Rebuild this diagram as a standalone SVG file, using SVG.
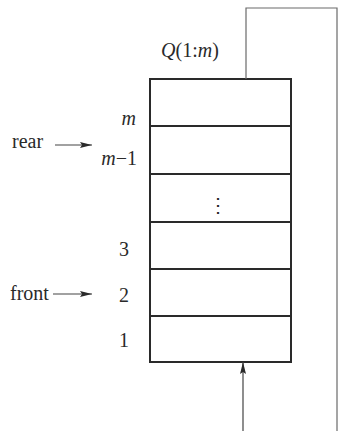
<svg xmlns="http://www.w3.org/2000/svg" width="339" height="431" viewBox="0 0 339 431">
<style>
.t{font-family:"Liberation Serif","Times New Roman",serif;font-size:20px;fill:#2a2a2a}
.i{font-style:italic}
.box{fill:none;stroke:#2a2a2a;stroke-width:2}
.div{stroke:#2a2a2a;stroke-width:1.8}
.c{fill:none;stroke:#444;stroke-width:1.2}
.g{fill:none;stroke:#6a6a6a;stroke-width:1.2}
</style>
<defs>
<marker id="ah" viewBox="0 0 12 6" refX="12" refY="3" markerWidth="12" markerHeight="6" markerUnits="userSpaceOnUse" orient="auto">
<path d="M0,0 L12,3 L0,6 L2,3 Z" fill="#2a2a2a"/>
</marker>
</defs>
<g id="queue">
<rect class="box" x="150" y="79" width="141" height="283"/>
<line class="div" x1="150" y1="126" x2="291" y2="126"/>
<line class="div" x1="150" y1="174" x2="291" y2="174"/>
<line class="div" x1="150" y1="222" x2="291" y2="222"/>
<line class="div" x1="150" y1="269" x2="291" y2="269"/>
<line class="div" x1="150" y1="316" x2="291" y2="316"/>
<text class="t" x="190" y="57" text-anchor="middle" font-size="21"><tspan class="i">Q</tspan>(1:<tspan class="i">m</tspan>)</text>
<text class="t" x="218" y="212" text-anchor="middle" font-size="21">⋮</text>
</g>
<g id="labels">
<text class="t i" x="136" y="125" text-anchor="end">m</text>
<text class="t" x="137" y="165" text-anchor="end"><tspan class="i">m</tspan>−1</text>
<text class="t" x="129" y="256" text-anchor="end">3</text>
<text class="t" x="129" y="302" text-anchor="end">2</text>
<text class="t" x="129" y="347" text-anchor="end">1</text>
<text class="t" x="12" y="148">rear</text>
<text class="t" x="10" y="300">front</text>
</g>
<g id="connectors">
<line class="c" x1="55" y1="145" x2="92" y2="145" marker-end="url(#ah)"/>
<line class="c" x1="53" y1="294" x2="92" y2="294" marker-end="url(#ah)"/>
<polyline class="g" points="246,79 246,8 337,8 337,431"/>
<line class="c" x1="243" y1="431" x2="243" y2="362" marker-end="url(#ah)"/>
</g>
</svg>
